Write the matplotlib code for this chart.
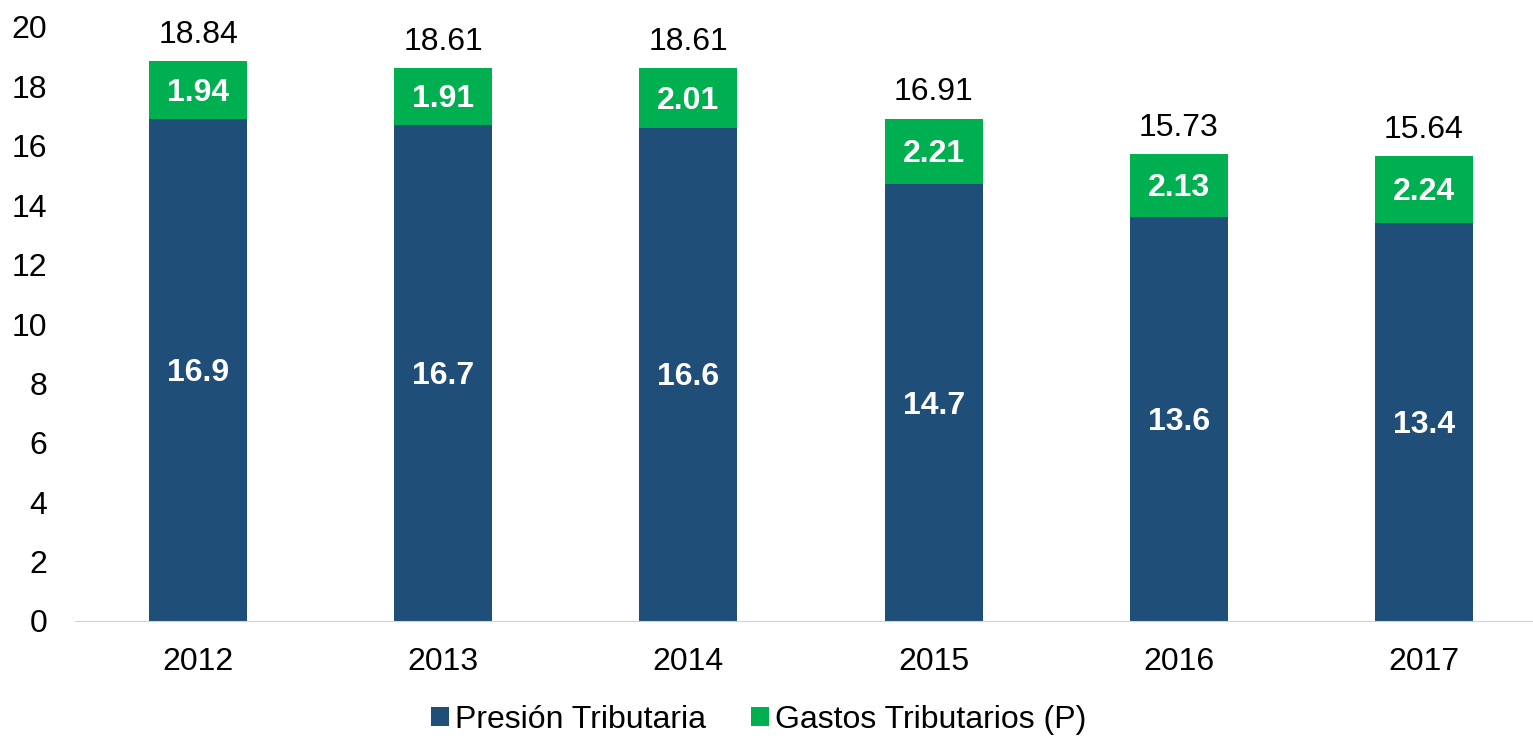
import matplotlib
matplotlib.use("Agg")
import matplotlib.pyplot as plt
import numpy as np

plt.rcParams['font.family'] = ['Liberation Sans', 'DejaVu Sans']

# data
years = ['2012', '2013', '2014', '2015', '2016', '2017']
presion = [16.9, 16.7, 16.6, 14.7, 13.6, 13.4]
gastos = [1.94, 1.91, 2.01, 2.21, 2.13, 2.24]
totales = [18.84, 18.61, 18.61, 16.91, 15.73, 15.64]

blue = '#1F4E79'
green = '#00B050'
fs = 23

fig = plt.figure(figsize=(15.33, 7.36), dpi=100)
ax = fig.add_axes([75 / 1533, 1 - 621 / 736, 1 - 75 / 1533, 594 / 736])

x = np.arange(len(years))
w = 0.40
ax.bar(x, presion, w, color=blue, label='Presión Tributaria')
ax.bar(x, gastos, w, bottom=presion, color=green, label='Gastos Tributarios (P)')

# value labels: white bold inside the segments, totals on top
for i in range(len(years)):
    ax.text(x[i], presion[i] / 2 - 0.1, f'{presion[i]:.1f}', ha='center', va='center',
            color='white', fontsize=fs, fontweight='bold')
    ax.text(x[i], presion[i] + gastos[i] / 2 - 0.08, f'{gastos[i]:.2f}', ha='center',
            va='center', color='white', fontsize=fs, fontweight='bold')
    ax.text(x[i], totales[i] + 0.38, f'{totales[i]:.2f}', ha='center', va='bottom',
            color='black', fontsize=fs)

ax.set_xlim(-0.502, 5.445)
ax.set_ylim(0, 20)
ax.set_yticks(range(0, 21, 2))
ax.set_xticks(x)
ax.set_xticklabels(years)
ax.tick_params(axis='both', length=0, labelsize=fs, colors='black')
ax.tick_params(axis='x', pad=19)
ax.tick_params(axis='y', pad=20)
for s in ['top', 'right', 'left']:
    ax.spines[s].set_visible(False)
ax.spines['bottom'].set_color('#D0D0D0')

fig.legend(loc='center', bbox_to_anchor=(0.495, 1 - 720 / 736), ncol=2, frameon=False,
           fontsize=fs, handlelength=0.55, handleheight=0.55, handletextpad=0.2,
           columnspacing=1.4)

fig.savefig('out.png', dpi=100)
